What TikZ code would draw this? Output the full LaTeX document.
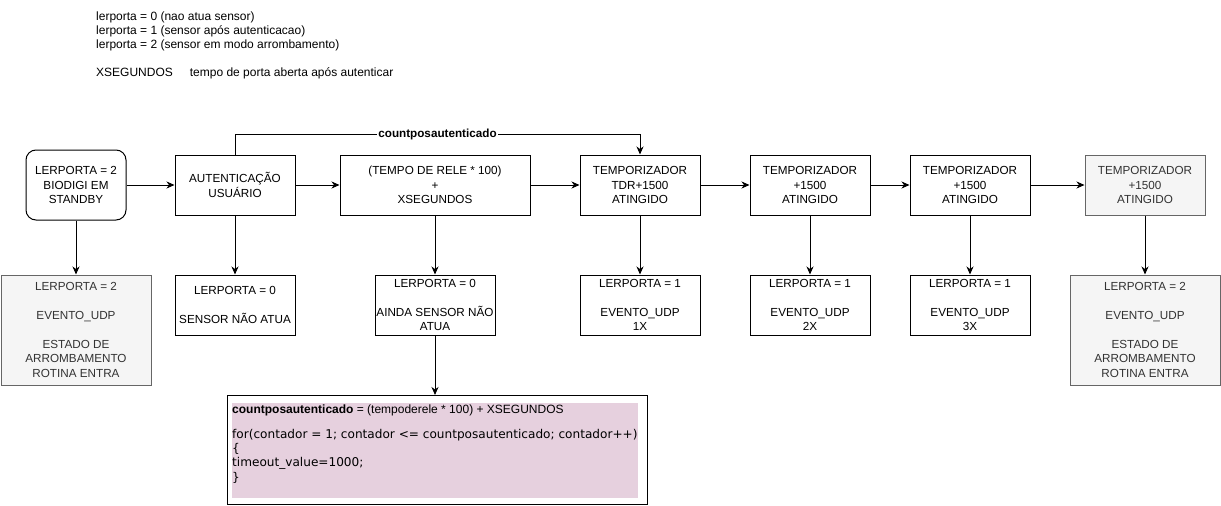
\documentclass[tikz,border=0pt]{standalone}
\usepackage{fontspec}
\setmainfont{Liberation Sans}
\newfontfamily\codefont{DejaVu Sans}
\usetikzlibrary{arrows.meta}
\definecolor{grayfill}{HTML}{F5F5F5}
\definecolor{graydraw}{HTML}{666666}
\definecolor{graytext}{HTML}{333333}
\definecolor{pinkfill}{HTML}{E6D0DE}
\begin{document}
\begin{tikzpicture}[x=1pt,y=-1pt,
  font=\fontsize{11.7}{14.4}\selectfont,
  box/.style={draw, line width=1pt, minimum width=120pt, minimum height=60pt, align=center, inner sep=0pt},
  rbox/.style={box, rounded corners=10pt, minimum width=100pt, minimum height=70pt},
  gbox/.style={box, fill=grayfill, draw=graydraw, text=graytext},
  tallbox/.style={minimum width=150pt, minimum height=110pt},
  arr/.style={line width=1pt, -{Stealth[length=8pt,width=7pt,inset=2.5pt]}},
  hdr/.style={anchor=base west, inner sep=0pt, font=\fontsize{12}{14.4}\selectfont},
  codeline/.style={anchor=base west, inner sep=0pt, font=\codefont\fontsize{12.1}{14.4}\selectfont}
]
\useasboundingbox (0,0) rectangle (1221,506);

% header notes
\node[hdr] (n1) at (96,20.5) {lerporta = 0 (nao atua sensor)};
\node[hdr] (n2) at (96,34.5) {lerporta = 1 (sensor após autenticacao)};
\node[hdr] (n3) at (96,48.5) {lerporta = 2 (sensor em modo arrombamento)};
\node[hdr] (n4) at (96,76.5) {XSEGUNDOS\hspace{17pt}tempo de porta aberta após autenticar};

% top row
\node[rbox] (A) at (76,185) {LERPORTA = 2\\BIODIGI EM\\STANDBY};
\node[box] (B) at (235,185) {AUTENTICAÇÃO\\USUÁRIO};
\node[box, minimum width=190pt] (C) at (435,185) {(TEMPO DE RELE * 100)\\+\\XSEGUNDOS};
\node[box] (D) at (640,185) {TEMPORIZADOR\\TDR+1500\\ATINGIDO};
\node[box] (E) at (810,185) {TEMPORIZADOR\\+1500\\ATINGIDO};
\node[box] (F) at (970,185) {TEMPORIZADOR\\+1500\\ATINGIDO};
\node[gbox] (G) at (1145,185) {TEMPORIZADOR\\+1500\\ATINGIDO};

% bottom row
\node[gbox, tallbox] (A2) at (76,330) {LERPORTA = 2\\[14.4pt]EVENTO\_UDP\\[14.4pt]ESTADO DE\\ARROMBAMENTO\\ROTINA ENTRA};
\node[box] (B2) at (235,305) {LERPORTA = 0\\[14.4pt]SENSOR NÃO ATUA};
\node[box] (C2) at (435,305) {LERPORTA = 0\\[14.4pt]AINDA SENSOR NÃO\\ATUA};
\node[box] (D2) at (640,305) {LERPORTA = 1\\[14.4pt]EVENTO\_UDP\\1X};
\node[box] (E2) at (810,305) {LERPORTA = 1\\[14.4pt]EVENTO\_UDP\\2X};
\node[box] (F2) at (970,305) {LERPORTA = 1\\[14.4pt]EVENTO\_UDP\\3X};
\node[gbox, tallbox] (G2) at (1145,330) {LERPORTA = 2\\[14.4pt]EVENTO\_UDP\\[14.4pt]ESTADO DE\\ARROMBAMENTO\\ROTINA ENTRA};

% code box
\node[draw, line width=1pt, minimum width=420pt, minimum height=109pt, anchor=north west, inner sep=0pt] (H) at (226.5,395) {};
\fill[pinkfill] (231.5,402.5) rectangle (638,498);
\node[hdr] (h1) at (232,413.5) {\textbf{countposautenticado} = (tempoderele * 100) + XSEGUNDOS};
\node[codeline] (h2) at (232,438.5) {for(contador = 1; contador <= countposautenticado; contador++)};
\node[codeline] (h3) at (232,452.5) {\{};
\node[codeline] (h4) at (232,466.5) {timeout\_value=1000;};
\node[codeline] (h5) at (232,481.5) {\}};

% horizontal flow
\draw[arr] (A) -- (B);
\draw[arr] (B) -- (C);
\draw[arr] (C) -- (D);
\draw[arr] (D) -- (E);
\draw[arr] (E) -- (F);
\draw[arr] (F) -- (G);

% vertical arrows
\draw[arr] (A) -- (A2);
\draw[arr] (B) -- (B2);
\draw[arr] (C) -- (C2);
\draw[arr] (D) -- (D2);
\draw[arr] (E) -- (E2);
\draw[arr] (F) -- (F2);
\draw[arr] (G) -- (G2);
\draw[arr] (C2) -- (C2 |- H.north);

% loop-back connector
\draw[arr] (B.north) -- ++(0,-20) -| (D.north)
  node[pos=0.25, fill=white, inner sep=1pt, font=\bfseries\fontsize{11.7}{14.4}\selectfont] (lbl) {countposautenticado};
\end{tikzpicture}
\end{document}
